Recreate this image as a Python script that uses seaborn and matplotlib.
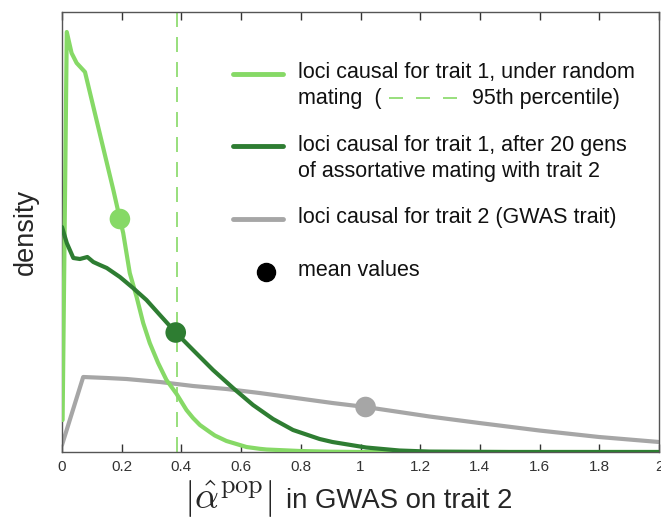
import numpy as np
import pandas as pd
import matplotlib
matplotlib.use("Agg")
import matplotlib.pyplot as plt
import seaborn as sns
from matplotlib.lines import Line2D

# ---- data ----
light_x = [0.002, 0.016, 0.032, 0.049, 0.077, 0.172, 0.194, 0.205, 0.227, 0.250, 0.272, 0.294,
           0.322, 0.350, 0.384, 0.417, 0.439, 0.462, 0.495, 0.512, 0.551, 0.618, 0.662, 0.685,
           0.796, 0.90, 1.0, 1.5, 2.0]
light_y = [0.32, 4.20, 3.99, 3.89, 3.80, 2.62, 2.33, 2.19, 1.79, 1.55, 1.29, 1.09,
           0.89, 0.72, 0.58, 0.42, 0.34, 0.27, 0.20, 0.165, 0.11, 0.05, 0.032, 0.025,
           0.01, 0.003, 0.0, 0.0, 0.0]

dark_x = [0.0, 0.016, 0.038, 0.060, 0.085, 0.105, 0.127, 0.150, 0.194, 0.238, 0.283, 0.328,
          0.381, 0.439, 0.506, 0.573, 0.640, 0.707, 0.774, 0.863, 0.906, 1.019, 1.130, 1.231,
          1.5, 2.0]
dark_y = [2.25, 2.09, 1.94, 1.93, 1.95, 1.90, 1.87, 1.84, 1.75, 1.64, 1.52, 1.37,
          1.195, 1.02, 0.82, 0.64, 0.47, 0.33, 0.22, 0.13, 0.10, 0.045, 0.015, 0.004,
          0.0, 0.0]

gray_x = [0.0, 0.071, 0.150, 0.216, 0.328, 0.439, 0.551, 0.662, 0.796, 0.906, 1.017,
          1.130, 1.231, 1.398, 1.599, 1.799, 2.0]
gray_y = [0.07, 0.75, 0.74, 0.73, 0.70, 0.66, 0.63, 0.59, 0.535, 0.49, 0.45,
          0.40, 0.355, 0.29, 0.215, 0.15, 0.10]

mean_x = [0.194, 0.381, 1.017]
mean_y = [2.33, 1.195, 0.45]
percentile_95 = 0.384

xticks = [0, 0.2, 0.4, 0.6, 0.8, 1, 1.2, 1.4, 1.6, 1.8, 2]
xtick_labels = ["0", "0.2", "0.4", "0.6", "0.8", "1", "1.2", "1.4", "1.6", "1.8", "2"]

LIGHT = "#86d966"
DARK = "#2e7d32"
GRAY = "#a6a6a6"

sns.set_theme(style="ticks")
plt.rcParams["font.family"] = ["Liberation Sans", "DejaVu Sans"]
plt.rcParams["mathtext.fontset"] = "cm"

fig = plt.figure(figsize=(6.61, 5.20), dpi=100)
ax = fig.add_axes([62 / 661, 1 - 452 / 520, 597 / 661, 440 / 520])

df_light = pd.DataFrame({"x": light_x, "y": light_y})
df_dark = pd.DataFrame({"x": dark_x, "y": dark_y})
df_gray = pd.DataFrame({"x": gray_x, "y": gray_y})

kw = dict(linewidth=3, sort=False, solid_joinstyle="round", solid_capstyle="round")
sns.lineplot(data=df_gray, x="x", y="y", ax=ax, color=GRAY, zorder=2, **kw)
sns.lineplot(data=df_light, x="x", y="y", ax=ax, color=LIGHT, zorder=3, **kw)
sns.lineplot(data=df_dark, x="x", y="y", ax=ax, color=DARK, zorder=4, **kw)

df_means = pd.DataFrame({"x": mean_x, "y": mean_y, "grp": ["light", "dark", "gray"]})
sns.scatterplot(data=df_means, x="x", y="y", hue="grp",
                palette={"light": LIGHT, "dark": DARK, "gray": GRAY},
                s=220, edgecolor="none", legend=False, ax=ax, zorder=5)

ax.axvline(percentile_95, color=LIGHT, linewidth=1.2, dashes=(9, 6), zorder=1)

ax.set_xlim(0, 2)
ax.set_ylim(0, 4.40)
ax.set_xticks(xticks)
ax.set_xticklabels(xtick_labels)
ax.set_yticks([])
ax.tick_params(axis="x", direction="in", top=True, length=6, width=1, color="#333333",
               labelsize=11, labelcolor="#333333", pad=6)
for s in ax.spines.values():
    s.set_visible(True)
    s.set_color("#555555")
    s.set_linewidth(1)

ax.set_xlabel("")
ax.set_ylabel("density", fontsize=19.5, labelpad=17)

# x-axis caption: larger math part followed by plain text
fig.text(273 / 661, 1 - 508 / 520, r"$|\hat{\alpha}^{\mathrm{pop}}|$", fontsize=27,
         ha="right", va="baseline")
fig.text(286 / 661, 1 - 508 / 520, "in GWAS on trait 2", fontsize=19.8,
         ha="left", va="baseline")

# ---- legend (drawn in axes coordinates) ----
def ax_x(px):
    return (px - 62) / 597

def ax_y(py):
    return (452 - py) / 440

tr = ax.transAxes
hx0, hx1, tx = ax_x(233), ax_x(283), ax_x(298)
fs = 15.5
for py, col in [(73.5, LIGHT), (146, DARK), (219, GRAY)]:
    ax.add_line(Line2D([hx0, hx1], [ax_y(py)] * 2, transform=tr, color=col, lw=3.5, clip_on=False))
ax.plot([ax_x(266)], [ax_y(271.5)], marker="o", markersize=13, color="black", transform=tr,
        linestyle="none")

texts = [
    (72.5, "loci causal for trait 1, under random"),
    (98.5, "mating  ("),
    (145.5, "loci causal for trait 1, after 20 gens"),
    (172, "of assortative mating with trait 2"),
    (217.5, "loci causal for trait 2 (GWAS trait)"),
    (270.5, "mean values"),
]
for py, t in texts:
    ax.text(tx, ax_y(py), t, transform=tr, fontsize=fs, va="center", ha="left", color="#111111")
ax.text(ax_x(472), ax_y(98.5), "95th percentile)", transform=tr, fontsize=fs, va="center",
        ha="left", color="#111111")
ax.add_line(Line2D([ax_x(389), ax_x(457)], [ax_y(98)] * 2, transform=tr, color=LIGHT, lw=1.2,
                   dashes=(8.4, 7.8), clip_on=False))

fig.savefig("out.png", dpi=100)
